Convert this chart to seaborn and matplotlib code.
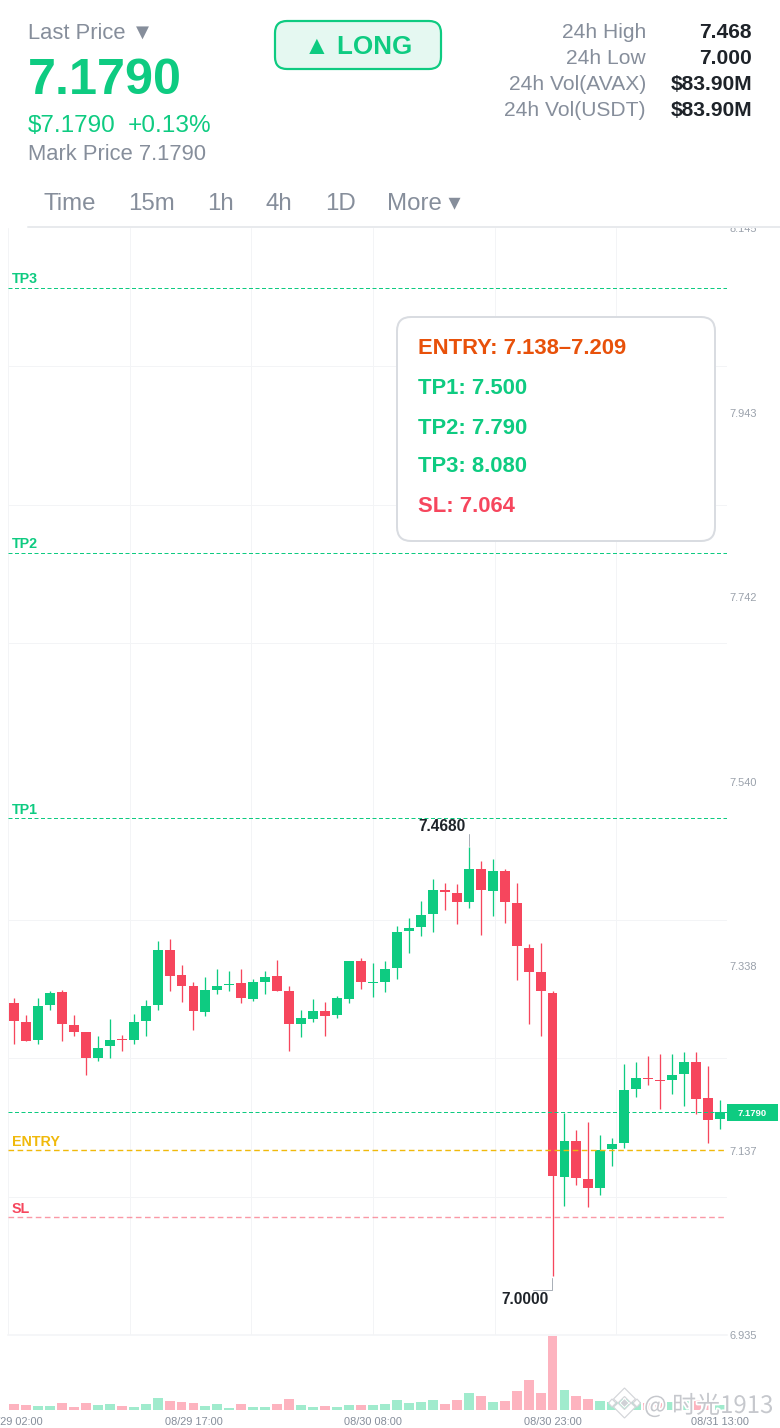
import numpy as np
import pandas as pd
import matplotlib.pyplot as plt
import seaborn as sns
import matplotlib.patheffects as pe
from matplotlib.patches import FancyBboxPatch, Rectangle, Polygon

# hourly candles
open_px = [7.2975, 7.2771, 7.2577, 7.2956, 7.3102, 7.2741, 7.2658, 7.2377, 7.2505, 7.2585,
           7.2577, 7.2785, 7.2956, 7.3561, 7.3281, 7.3161, 7.2877, 7.3117, 7.3172, 7.3194,
           7.3025, 7.3205, 7.3270, 7.3109, 7.2745, 7.2803, 7.2891, 7.2844, 7.3025, 7.3441,
           7.3200, 7.3215, 7.3358, 7.3769, 7.3806, 7.3948, 7.4213, 7.4181, 7.4079, 7.4440,
           7.4199, 7.4421, 7.4071, 7.3583, 7.3314, 7.3091, 7.1080, 7.1470, 7.1051, 7.0953,
           7.1383, 7.1445, 7.2035, 7.2158, 7.2137, 7.2133, 7.2206, 7.2330, 7.1937, 7.1714]
close_px = [7.2778, 7.2566, 7.2942, 7.3091, 7.2749, 7.2665, 7.2374, 7.2490, 7.2571, 7.2574,
            7.2767, 7.2949, 7.3561, 7.3277, 7.3167, 7.2888, 7.3117, 7.3161, 7.3183, 7.3036,
            7.3208, 7.3262, 7.3106, 7.2745, 7.2811, 7.2891, 7.2836, 7.3030, 7.3441, 7.3215,
            7.3215, 7.3350, 7.3751, 7.3795, 7.3940, 7.4213, 7.4195, 7.4085, 7.4440, 7.4210,
            7.4421, 7.4085, 7.3598, 7.3314, 7.3106, 7.1091, 7.1470, 7.1062, 7.0953, 7.1372,
            7.1440, 7.2031, 7.2158, 7.2144, 7.2122, 7.2191, 7.2330, 7.1932, 7.1703, 7.1790]
high_px = [7.3033, 7.2847, 7.3033, 7.3106, 7.3120, 7.2844, 7.2661, 7.2621, 7.2803, 7.2629,
           7.2855, 7.3011, 7.3656, 7.3675, 7.3394, 7.3205, 7.3262, 7.3353, 7.3325, 7.3353,
           7.3241, 7.3325, 7.3445, 7.3161, 7.2902, 7.3019, 7.2989, 7.3055, 7.3441, 7.3470,
           7.3412, 7.3441, 7.3823, 7.3911, 7.4093, 7.4334, 7.4290, 7.4282, 7.4680, 7.4530,
           7.4552, 7.4443, 7.4293, 7.3623, 7.3634, 7.3113, 7.1776, 7.1590, 7.1680, 7.1532,
           7.1503, 7.2308, 7.2340, 7.2402, 7.2421, 7.2421, 7.2440, 7.2440, 7.2290, 7.1918]
low_px = [7.2530, 7.2563, 7.2530, 7.2905, 7.2566, 7.2614, 7.2191, 7.2348, 7.2374, 7.2454,
          7.2533, 7.2621, 7.2905, 7.3113, 7.2986, 7.2686, 7.2836, 7.3077, 7.3113, 7.2982,
          7.3003, 7.3073, 7.3106, 7.2454, 7.2603, 7.2774, 7.2614, 7.2814, 7.2975, 7.3131,
          7.3047, 7.3095, 7.3244, 7.3528, 7.3714, 7.3758, 7.3995, 7.3845, 7.4017, 7.3725,
          7.3932, 7.3856, 7.3233, 7.2752, 7.2621, 7.0000, 7.0763, 7.0989, 7.0752, 7.0883,
          7.1200, 7.1390, 7.1954, 7.2085, 7.1823, 7.1984, 7.1856, 7.1765, 7.1445, 7.1604]
volume = [6, 5, 4, 4, 6.7, 2.7, 7, 5, 6, 3.7,
          3, 5.7, 11.7, 9, 8, 7, 4.3, 5.7, 2.3, 6,
          2.7, 3.3, 6, 10.7, 5, 3, 4, 3, 4.7, 5,
          5, 6, 10, 7.3, 8, 10.3, 6.3, 10, 17, 14,
          7.7, 9, 18.7, 30, 16.7, 74, 20, 14, 10.7, 9,
          8, 11, 7.7, 6.7, 6.7, 8, 11, 10, 8, 5]

price_ticks = ["8.145", "7.943", "7.742", "7.540", "7.338", "7.137", "6.935"]
time_ticks = [0, 15, 30, 45, 59]
time_labels = ["08/29 02:00", "08/29 17:00", "08/30 08:00", "08/30 23:00", "08/31 13:00"]

last_price = 7.1790
level_names = ["TP3", "TP2", "TP1", "ENTRY", "SL"]
level_values = [8.080, 7.790, 7.500, 7.137, 7.064]

GREEN = "#0ecb81"
RED = "#f6465d"
AMBER = "#f0b90b"
GREY = "#868e9b"
DARK = "#1e2329"
level_colors = [GREEN, GREEN, GREEN, AMBER, RED]

df = pd.DataFrame({"idx": np.arange(len(open_px)), "open": open_px, "close": close_px,
                   "high": high_px, "low": low_px, "volume": volume})
df["up"] = df["close"] >= df["open"]
df["body_low"] = df[["open", "close"]].min(axis=1)
df["body"] = (df["close"] - df["open"]).abs()

sns.set_theme(style="white")
plt.rcParams["font.family"] = ["Liberation Sans", "DejaVu Sans"]


def px(size):
    return size * 0.72


W, H = 780, 1428
fig = plt.figure(figsize=(W / 100, H / 100), dpi=100, facecolor="white")

# axes boxes in pixels of the page
ax = fig.add_axes([8 / W, 1 - 1335.1 / H, 719 / W, 1107 / H])
ax_vol = fig.add_axes([8 / W, 1 - 1410 / H, 719 / W, 74 / H])
top = fig.add_axes([0, 0, 1, 1], zorder=5)
x_min, x_max = -0.5, 59.58

# candles
for is_up, color in [(True, GREEN), (False, RED)]:
    part = df[df["up"] == is_up]
    sns.barplot(data=part, x="idx", y="body", bottom=part["body_low"].values, native_scale=True,
                color=color, saturation=1, width=0.83, linewidth=0, ax=ax, zorder=3)
ax.vlines(df["idx"], df["low"], df["high"], colors=[GREEN if u else RED for u in df["up"]],
          linewidth=px(1.3), zorder=2)

# levels
for name, value, color in zip(level_names, level_values, level_colors):
    alpha = 0.55 if name == "SL" else 1
    lw = 1.0 if name.startswith("TP") else 1.4
    ax.axhline(value, color=color, lw=px(lw), ls=(0, (4, 2.5)), alpha=alpha, zorder=4)
    ax.annotate(name, (0, value), xycoords=("axes fraction", "data"), xytext=(px(4), px(1.5)),
                textcoords="offset points", color=color, fontsize=px(14.3), fontweight="bold",
                va="bottom", ha="left")
ax.axhline(last_price, color=GREEN, lw=px(1), ls=(0, (4, 2.5)), zorder=4)

ax.set_xlim(x_min, x_max)
ax.set_ylim(6.935, 8.145)
ax.set_xlabel("")
ax.set_ylabel("")
ax.set_xticks(-0.5 + 10.168 * np.arange(6), minor=True)
ax.set_xticks([])
ax.set_yticks(np.linspace(6.935, 8.145, 9), minor=True)
ax.set_yticks(np.linspace(8.145, 6.935, 7), labels=price_ticks)
ax.yaxis.tick_right()
ax.tick_params(axis="y", which="major", length=0, pad=2, labelsize=px(11), labelcolor="#9aa1ab")
ax.tick_params(which="minor", length=0)
ax.grid(False, which="major")
ax.grid(True, which="minor", color="#f3f4f6", lw=px(1))
ax.set_axisbelow(True)
sns.despine(ax=ax, left=True, right=True, top=True, bottom=False)
ax.spines["bottom"].set_color("#f3f4f6")
ax.spines["bottom"].set_linewidth(px(1.5))
ax.patch.set_alpha(0)

# volume
sns.barplot(data=df, x="idx", y="volume", hue="up", palette={True: "#a0ebcd", False: "#fdb3bf"},
            dodge=False, native_scale=True, saturation=1, width=0.83, linewidth=0, legend=False, ax=ax_vol)
ax_vol.set_xlim(x_min, x_max)
ax_vol.set_ylim(0, 74)
ax_vol.set_xlabel("")
ax_vol.set_ylabel("")
ax_vol.set_yticks([])
ax_vol.set_xticks(time_ticks, labels=time_labels)
ax_vol.tick_params(axis="x", length=0, pad=5, labelsize=px(11), labelcolor="#868e9b")
sns.despine(ax=ax_vol, left=True, bottom=True)
ax_vol.patch.set_alpha(0)

# page overlay in pixel units
top.set_xlim(0, W)
top.set_ylim(H, 0)
top.axis("off")
top.patch.set_alpha(0)
top.add_patch(Rectangle((0, 0), W, 227.5, fc="white", ec="none", zorder=0))
top.plot([28, W], [227, 227], color="#e8eaed", lw=px(2), zorder=1)


def label(x, y, s, size, color=GREY, weight="normal", ha="left", **kw):
    return top.text(x, y, s, fontsize=px(size), color=color, fontweight=weight, ha=ha,
                    va="center_baseline", **kw)


label(28, 31, "Last Price ▼", 22)
label(28, 76, "7.1790", 50.4, GREEN, "bold")
label(28, 124, "$7.1790", 24.2, GREEN)
label(128, 124, "+0.13%", 24.4, GREEN)
label(28, 152.5, "Mark Price 7.1790", 22)

for x, s in zip([44, 128, 207, 266, 325, 387], ["Time", "15m", "1h", "4h", "1D", "More ▾"]):
    label(x, 202, s, 24)

top.add_patch(FancyBboxPatch((275, 21), 166, 48, boxstyle="round,pad=0,rounding_size=12",
                             fc="#e5f8f1", ec=GREEN, lw=px(2.2), zorder=2))
label(358, 45, "▲ LONG", 26, GREEN, "bold", ha="center", zorder=3)

stat_names = ["24h High", "24h Low", "24h Vol(AVAX)", "24h Vol(USDT)"]
stat_values = ["7.468", "7.000", "$83.90M", "$83.90M"]
for y, name, value in zip([31, 57, 83, 109], stat_names, stat_values):
    label(646, y, name, 21, ha="right")
    label(752, y, value, 21, DARK, "bold", ha="right")

# signal box
top.add_patch(FancyBboxPatch((397, 317), 318, 224, boxstyle="round,pad=0,rounding_size=14",
                             fc="white", ec="#d9dce1", lw=px(2), zorder=2))
box_lines = ["ENTRY: 7.138–7.209", "TP1: 7.500", "TP2: 7.790", "TP3: 8.080", "SL: 7.064"]
box_colors = ["#e8510a", GREEN, GREEN, GREEN, RED]
for y, s, c in zip([346.3, 386.3, 426.3, 464.3, 504.3], box_lines, box_colors):
    label(418, y, s, 22, c, "bold", zorder=3)

# high / low callouts
label(418.5, 825, "7.4680", 15.5, DARK, "bold")
top.plot([468.5, 468.5], [834, 846], color="#aab0b8", lw=px(1))
label(501.5, 1298, "7.0000", 15.5, DARK, "bold")
top.plot([552, 552, 533], [1278, 1290, 1290], color="#aab0b8", lw=px(1))

# last price tag
top.add_patch(Rectangle((727, 1104), 51, 17, fc=GREEN, ec="none", zorder=2))
label(752.5, 1113, "7.1790", 9.5, "white", "bold", ha="center", zorder=3)

# watermark logo, chevrons and diamonds around one centre
cx, cy = 624.5, 1403
logo_shapes = [
    [(0, -15), (11, -4), (6.5, 0), (0, -6.5), (-6.5, 0), (-11, -4)],
    [(0, 15), (11, 4), (6.5, 0), (0, 6.5), (-6.5, 0), (-11, 4)],
    [(-12.5, -4), (-8.5, 0), (-12.5, 4), (-16, 0)],
    [(12.5, -4), (8.5, 0), (12.5, 4), (16, 0)],
]
for shape in logo_shapes:
    top.add_patch(Polygon([(cx + a, cy + b) for a, b in shape], fc="white", ec="#d4d6da", lw=px(1.2), zorder=6))
top.add_patch(Polygon([(cx, cy - 4.5), (cx + 4.5, cy), (cx, cy + 4.5), (cx - 4.5, cy)], fc="#cfd1d6",
                      ec="white", lw=px(1), zorder=6))

halo = [pe.withStroke(linewidth=2.5, foreground="white")]
top.text(644, 1403, "@ 时光1913", fontsize=px(24), color="#c6c8cd", va="center_baseline", ha="left",
         family=["Noto Sans CJK SC", "DejaVu Sans"], path_effects=halo, zorder=6)

fig.savefig("out.png", dpi=100)
